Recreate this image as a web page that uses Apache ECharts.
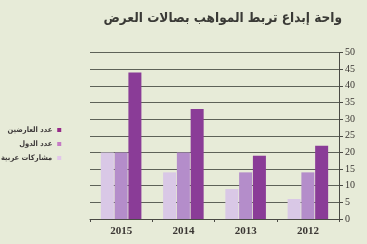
<!DOCTYPE html>
<html><head><meta charset="utf-8">
<script src="https://cdn.jsdelivr.net/npm/echarts@6/dist/echarts.min.js"></script>
<style>html,body{margin:0;padding:0;background:#e7ebd8;}#c{width:367px;height:244px;}</style>
</head><body><div id="c"></div>
<script>
const years = ['2015', '2014', '2013', '2012'];
const arabParticipation = [20, 14, 9, 6];   // مشاركات عربية
const countries = [20, 20, 14, 14];         // عدد الدول
const exhibitors = [44, 33, 19, 22];        // عدد العارضين
const yTicks = [0, 5, 10, 15, 20, 25, 30, 35, 40, 45, 50];
const title = 'واحة إبداع تربط المواهب بصالات العرض';
const names = ['مشاركات عربية', 'عدد الدول', 'عدد العارضين'];

const chart = echarts.init(document.getElementById('c'), null, {renderer: 'canvas'});
const serif = '"Liberation Serif", "DejaVu Serif", serif';
const ar = '"DejaVu Sans Condensed", "DejaVu Sans", sans-serif';
chart.setOption({
  backgroundColor: '#e7ebd8',
  animation: false,
  title: {
    text: title, right: 20, top: 6,
    textStyle: {fontFamily: ar, fontSize: 13.5, fontWeight: 'bold', color: '#3a3a36'}
  },
  legend: {
    orient: 'vertical', left: -4, top: 121, align: 'right', padding: 5,
    itemWidth: 4, itemHeight: 4, itemGap: 6,
    icon: 'rect',
    textStyle: {fontFamily: ar, fontSize: 7.5, fontWeight: 'bold', color: '#3e3a3a', padding: [0, 0, 0, 0]},
    data: [
      {name: names[2], itemStyle: {color: '#962a88'}},
      {name: names[1], itemStyle: {color: '#c57ac4'}},
      {name: names[0], itemStyle: {color: '#e2c6ea'}}
    ]
  },
  grid: {left: 90, right: 28, top: 52.5, bottom: 25},
  xAxis: {
    type: 'category', data: years,
    axisLine: {lineStyle: {color: '#4a4a44', width: 1}},
    axisTick: {show: true, length: 3, lineStyle: {color: '#4a4a44'}},
    axisLabel: {fontFamily: serif, fontSize: 11, fontWeight: 'bold', color: '#3a3633', margin: 7}
  },
  yAxis: {
    type: 'value', position: 'right', min: 0, max: 50, interval: 5,
    axisLine: {show: true, lineStyle: {color: '#4a4a44', width: 1}},
    axisTick: {show: true, length: 4, lineStyle: {color: '#4a4a44'}},
    axisLabel: {fontFamily: serif, fontSize: 10, color: '#3a3633', margin: 6,
      formatter: v => yTicks.includes(v) ? String(v) : ''},
    splitLine: {show: true, lineStyle: {color: '#5e6258', width: 1}}
  },
  series: [
    {name: names[0], type: 'bar', data: arabParticipation, barWidth: 13, barGap: '6%', itemStyle: {color: '#d9c8e6'}},
    {name: names[1], type: 'bar', data: countries, barWidth: 13, barGap: '6%', itemStyle: {color: '#b48dca'}},
    {name: names[2], type: 'bar', data: exhibitors, barWidth: 13, barGap: '6%', itemStyle: {color: '#8a3c97'}}
  ]
});
</script></body></html>
